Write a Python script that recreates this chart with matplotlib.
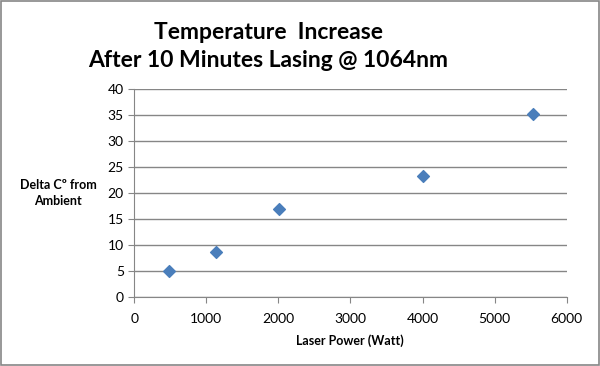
import matplotlib.pyplot as plt
from matplotlib.patches import Rectangle

# data
power = [475, 1127, 2009, 4009, 5533]
delta_t = [5.0, 8.6, 16.9, 23.3, 35.2]
x_ticks = [0, 1000, 2000, 3000, 4000, 5000, 6000]
y_ticks = [0, 5, 10, 15, 20, 25, 30, 35, 40]

plt.rcParams['font.family'] = ['Lato', 'DejaVu Sans']

fig = plt.figure(figsize=(6, 3.66), dpi=100)
ax = fig.add_axes([0.2238, 0.1893, 0.7207, 0.5667])

ax.scatter(power, delta_t, marker='D', s=36, color='#4A7EBB', zorder=3)

ax.set_xlim(0, 6000)
ax.set_ylim(0, 40)
ax.set_xticks(x_ticks)
ax.set_yticks(y_ticks)
ax.tick_params(axis='both', colors='#868686', labelcolor='black', labelsize=10, length=4)
ax.tick_params(axis='x', pad=8)
ax.grid(axis='y', color='#868686', linewidth=1)
ax.set_axisbelow(True)
for s in ['top', 'right']:
    ax.spines[s].set_visible(False)
for s in ['left', 'bottom']:
    ax.spines[s].set_color('#868686')

fig.text(0.447, 0.912, 'Temperature  Increase', ha='center', va='center',
         fontsize=16.5, fontweight='bold')
fig.text(0.447, 0.834, 'After 10 Minutes Lasing @ 1064nm', ha='center', va='center',
         fontsize=16.5, fontweight='bold')
# y label, two centred lines
fig.text(0.097, 0.494, 'Delta C\u00ba from', ha='center', va='center',
         fontsize=9, fontweight='bold')
fig.text(0.097, 0.45, 'Ambient', ha='center', va='center',
         fontsize=9, fontweight='bold')
fig.text(0.583, 0.07, 'Laser Power (Watt)', ha='center', va='center',
         fontsize=9, fontweight='bold')

# outer chart border
fig.patches.append(Rectangle((0.002, 0.003), 0.996, 0.994, transform=fig.transFigure,
                             fill=False, edgecolor='#868686', linewidth=1.2))

fig.savefig('out.png', dpi=100)
